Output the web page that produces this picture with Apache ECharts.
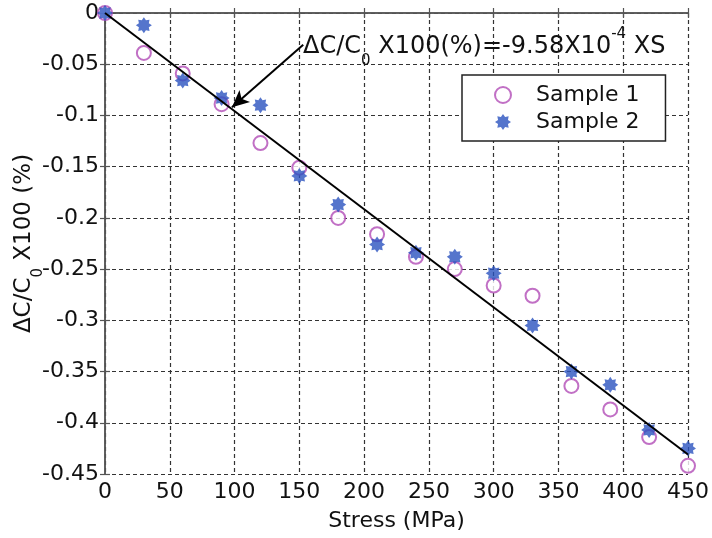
<!DOCTYPE html>
<html>
<head>
<meta charset="utf-8">
<script src="https://cdn.jsdelivr.net/npm/echarts@6/dist/echarts.min.js"></script>
<style>
html,body{margin:0;padding:0;background:#fff;}
#chart{width:712px;height:538px;}
</style>
</head>
<body>
<div id="chart"></div>
<script>
// ---- data ----
var stress = [0, 30, 60, 90, 120, 150, 180, 210, 240, 270, 300, 330, 360, 390, 420, 450];
var sample1 = [0, -0.039, -0.059, -0.089, -0.127, -0.151, -0.200, -0.216, -0.238, -0.250, -0.266, -0.276, -0.364, -0.387, -0.414, -0.442];
var sample2 = [0, -0.012, -0.066, -0.083, -0.090, -0.159, -0.187, -0.226, -0.234, -0.238, -0.254, -0.305, -0.350, -0.363, -0.407, -0.425];
var fitX = [0, 450];
var fitY = [0, -0.431];
var arrowFrom = [153, -0.031];
var arrowTo = [98, -0.092];
var seriesNames = ['Sample 1', 'Sample 2'];
var xTicks = {min: 0, max: 450, interval: 50};
var yTicks = {min: -0.45, max: 0, interval: 0.05};

function pairs(xs, ys) { return xs.map(function (x, i) { return [x, ys[i]]; }); }

var FONT = 'DejaVu Sans';
var starPath = 'path://M10,0 L12.6,3.8 L17.07,2.93 L16.2,7.4 L20,10 L16.2,12.6 L17.07,17.07 L12.6,16.2 L10,20 L7.4,16.2 L2.93,17.07 L3.8,12.6 L0,10 L3.8,7.4 L2.93,2.93 L7.4,3.8 Z';

var chart = echarts.init(document.getElementById('chart'), null, {renderer: 'canvas'});

var gridLine = {show: true, lineStyle: {color: '#333', width: 1.2, type: [4, 3]}};
var frameLine = {show: true, lineStyle: {color: '#555', width: 1.5}};
var tick = {show: true, inside: true, length: 5, lineStyle: {color: '#555', width: 1.2}};

var option = {
  animation: false,
  backgroundColor: '#fff',
  grid: {left: 105, right: 24, top: 13, bottom: 64, containLabel: false, outerBoundsMode: 'none'},
  legend: {
    data: seriesNames,
    orient: 'vertical',
    left: 462, top: 75,
    padding: [9, 26, 8, 32],
    itemWidth: 16, itemHeight: 16, itemGap: 5,
    borderColor: '#222', borderWidth: 1.5, backgroundColor: '#fff',
    textStyle: {fontFamily: FONT, fontSize: 22, color: '#111', padding: [0, 0, 0, 20]}
  },
  xAxis: [{
    type: 'value', min: xTicks.min, max: xTicks.max, interval: xTicks.interval,
    name: 'Stress (MPa)', nameLocation: 'middle', nameGap: 36, nameMoveOverlap: false,
    nameTextStyle: {fontFamily: FONT, fontSize: 22, color: '#111'},
    axisLine: frameLine, axisTick: tick, splitLine: gridLine,
    axisLabel: {fontFamily: FONT, fontSize: 22, color: '#111', margin: 7}
  }, {
    type: 'value', position: 'top', min: xTicks.min, max: xTicks.max, interval: xTicks.interval,
    axisLine: frameLine, axisTick: tick, splitLine: {show: false}, axisLabel: {show: false}
  }],
  yAxis: [{
    type: 'value', min: yTicks.min, max: yTicks.max, interval: yTicks.interval,
    name: '{a|ΔC/C}{sub|0}{a| X100 (%)}', nameLocation: 'middle', nameGap: 68, nameMoveOverlap: false,
    nameTextStyle: {
      fontFamily: FONT, fontSize: 23, color: '#111',
      rich: {
        a: {fontFamily: FONT, fontSize: 23, color: '#111', lineHeight: 25},
        sub: {fontFamily: FONT, fontSize: 15, color: '#111', lineHeight: 15, padding: [28, 0, 0, 0]}
      }
    },
    axisLine: frameLine, axisTick: tick, splitLine: gridLine,
    axisLabel: {fontFamily: FONT, fontSize: 22, color: '#111', margin: 6}
  }, {
    type: 'value', position: 'right', min: yTicks.min, max: yTicks.max, interval: yTicks.interval,
    axisLine: frameLine, axisTick: tick, splitLine: {show: false}, axisLabel: {show: false}
  }],
  series: [{
    name: seriesNames[0], type: 'scatter', data: pairs(stress, sample1),
    symbol: 'emptyCircle', symbolSize: 14,
    itemStyle: {color: '#b24cb6', borderColor: '#b24cb6', borderWidth: 2.2},
    emphasis: {disabled: true}, z: 3
  }, {
    name: seriesNames[1], type: 'scatter', data: pairs(stress, sample2),
    symbol: starPath, symbolSize: 16,
    itemStyle: {color: '#2b52bf'},
    emphasis: {disabled: true}, z: 4
  }, {
    name: 'fit', type: 'line', data: pairs(fitX, fitY),
    showSymbol: false, symbol: 'none',
    lineStyle: {color: '#000', width: 2}, z: 5,
    markLine: {
      silent: true, symbol: ['none', 'arrow'], symbolSize: [12, 17],
      label: {show: false},
      lineStyle: {color: '#000', width: 2, type: 'solid'},
      data: [[{coord: arrowFrom}, {coord: arrowTo}]]
    }
  }],
  graphic: [{
    type: 'text', x: 303, y: 46.5, z: 10,
    style: {
      text: '{a|ΔC/C}{sub|0}{a| X100(%)=-9.58X10}{sup|-4}{a| XS}',
      align: 'left', verticalAlign: 'middle',
      font: '24px "DejaVu Sans"', fill: '#111',
      rich: {
        a: {fontFamily: FONT, fontSize: 24, fill: '#111', lineHeight: 26},
        sub: {fontFamily: FONT, fontSize: 15, fill: '#111', lineHeight: 15, padding: [30, 0, 0, 0]},
        sup: {fontFamily: FONT, fontSize: 15, fill: '#111', lineHeight: 15, padding: [0, 0, 25, 0]}
      }
    }
  }]
};
chart.setOption(option);
</script>
</body>
</html>
